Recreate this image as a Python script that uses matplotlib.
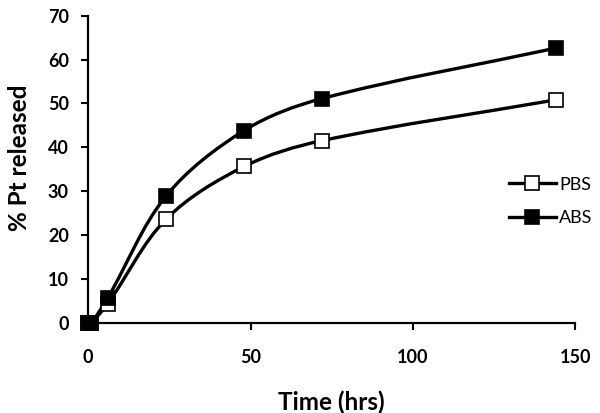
import numpy as np
import matplotlib
matplotlib.use('Agg')
import matplotlib.pyplot as plt
from matplotlib.path import Path
from matplotlib.patches import PathPatch
from matplotlib.lines import Line2D

plt.rcParams['font.family'] = ['Lato', 'DejaVu Sans']

# release data
time_hrs = [0, 1, 6, 24, 48, 72, 144]
pbs = [0, 0, 4.3, 23.6, 35.6, 41.5, 50.8]
abs_ = [0, 0, 5.6, 28.9, 43.8, 51.1, 62.6]

# pixels per data unit, used so the smoothing works in screen space
SX, SY = 3.248, 4.386


def smooth_path(x, y):
    # smoothed line through the points as cubic Beziers, tangents scaled by segment length
    p = np.column_stack([np.asarray(x) * SX, np.asarray(y) * SY]).astype(float)
    n = len(p)
    tang = []
    for i in range(n):
        a = p[i - 1] if i > 0 else p[i]
        b = p[i + 1] if i < n - 1 else p[i]
        d = b - a
        nd = np.hypot(*d)
        tang.append(d / nd if nd > 0 else np.zeros(2))
    verts = [p[0]]
    codes = [Path.MOVETO]
    for i in range(n - 1):
        seg = np.hypot(*(p[i + 1] - p[i]))
        c1 = p[i] + tang[i] * seg / 3
        c2 = p[i + 1] - tang[i + 1] * seg / 3
        verts += [c1, c2, p[i + 1]]
        codes += [Path.CURVE4] * 3
    verts = np.array(verts) / [SX, SY]
    return Path(verts, codes)


fig = plt.figure(figsize=(6.0, 4.13), dpi=100)
ax = fig.add_axes([0.147, 0.219, 0.812, 0.743])

lw = 2.4
for y, face in [(pbs, 'white'), (abs_, 'black')]:
    ax.add_patch(PathPatch(smooth_path(time_hrs, y), facecolor='none',
                           edgecolor='black', lw=lw, zorder=2))
    ax.plot(time_hrs, y, ls='none', marker='s', ms=10, mfc=face,
            mec='black', mew=1.2, zorder=3, clip_on=False)

ax.set_xlim(0, 150)
ax.set_ylim(0, 70)
ax.set_xticks([0, 50, 100, 150])
ax.set_yticks(range(0, 71, 10))
for s in ['top', 'right']:
    ax.spines[s].set_visible(False)
for s in ['left', 'bottom']:
    ax.spines[s].set_linewidth(1.6)
ax.tick_params(direction='out', length=5, width=1.5, labelsize=13)
ax.tick_params(axis='y', pad=9)
ax.tick_params(axis='x', pad=14)
for lab in ax.get_xticklabels() + ax.get_yticklabels():
    lab.set_fontweight('bold')

ax.set_xlabel('Time (hrs)', fontsize=17.5, fontweight='bold', labelpad=18)
ax.set_ylabel('% Pt released', fontsize=17.5, fontweight='bold')
ax.yaxis.set_label_coords(-0.118, 0.536)

handles = [
    Line2D([], [], color='black', lw=lw, marker='s', ms=10, mfc='white', mec='black', mew=1.2),
    Line2D([], [], color='black', lw=lw, marker='s', ms=10, mfc='black', mec='black', mew=1.2),
]
ax.legend(handles, ['PBS', 'ABS'], frameon=False, fontsize=13,
          loc='center left', bbox_to_anchor=(0.83, 0.395), handlelength=2.6,
          handletextpad=0.2, labelspacing=0.95)

fig.savefig('out.png', dpi=100)
